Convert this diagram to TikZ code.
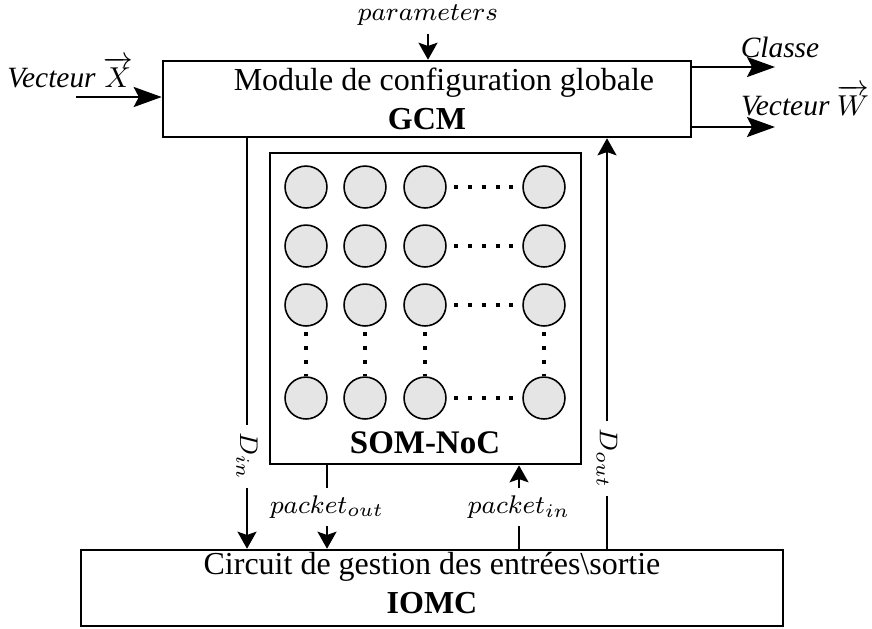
\documentclass[tikz,border=0pt]{standalone}
\usepackage{fontspec}
\setmainfont{Liberation Serif}
\usepackage{amsmath}
\usetikzlibrary{arrows.meta, positioning}

\begin{document}
\begin{tikzpicture}[
  x=0.3125pt, y=-0.3125pt,
  block/.style={draw, line width=0.8pt, align=center, inner sep=0pt},
  neuron/.style={circle, draw, line width=0.5pt, fill=gray!20, minimum size=13.1pt, inner sep=0pt},
  tlbl/.style={font=\fontsize{9.2}{11}\selectfont\itshape, inner sep=2pt},
  mlbl/.style={font=\fontsize{8}{10}\selectfont, inner sep=2.5pt},
  bigarrow/.style={-{Stealth[length=8.75pt, width=6.25pt, inset=1.6pt]}, line width=0.8pt},
  arrow/.style={-{Stealth[length=5.3pt, width=5.9pt, inset=1pt]}, line width=0.8pt},
  dotline/.style={line width=1.25pt, dash pattern=on 1.25pt off 3.1pt}
]
\useasboundingbox (0,0) rectangle (872,628);

% blocs
\node[block, minimum width=165pt, minimum height=23.75pt] (gcm) at (427,99)
  {\hspace*{10.6pt}Module de configuration globale\\\textbf{GCM}};
\node[block, minimum width=219.4pt, minimum height=23.75pt] (iomc) at (432,588)
  {Circuit de gestion des entrées\textbackslash sortie\\\textbf{IOMC}\rule[-3.1pt]{0pt}{0pt}};
\node[block, minimum width=97.2pt, minimum height=97.2pt] (som) at (425.5,308.5) {};
\node[font=\fontsize{10.3}{12}\selectfont\bfseries, anchor=base] (somlbl) at (425,453) {SOM-NoC};

% neurones
\foreach \r/\yy in {1/187, 2/246, 3/305, 5/398}
  \foreach \c/\xx in {1/306, 2/365, 3/425, 5/544}
    \node[neuron] (n\r\c) at (\xx,\yy) {};
\foreach \r in {1,2,3,5}
  \draw[dotline] ([xshift=2.2pt]n\r3.east) -- ([xshift=-2.5pt]n\r5.west);
\foreach \c in {1,2,3,5}
  \draw[dotline] ([yshift=-1.6pt]n3\c.south) -- (n5\c.north);

% entrees / sorties du GCM
\coordinate (xin) at (76,97);
\draw[bigarrow] (xin) -- (xin -| gcm.west);
\node[tlbl, anchor=base] (vx) at (70,87) {Vecteur $\overrightarrow{X}$};
\coordinate (cls) at (775,67);
\draw[bigarrow] (cls -| gcm.east) -- (cls);
\node[tlbl, anchor=base] (classe) at (780,57) {Classe};
\coordinate (wout) at (775,127);
\draw[bigarrow] (wout -| gcm.east) -- (wout);
\node[tlbl, anchor=base] (vw) at (805,115) {Vecteur $\overrightarrow{W}$};
\node[mlbl, anchor=base] (par) at (428,20) {$parameters$};
\draw[arrow] (par.south) -- (par.south |- gcm.north);

% liaisons GCM / SOM-NoC / IOMC
\coordinate (xdin) at (247,300);
\coordinate (xpout) at (327,300);
\coordinate (xpin) at (519,300);
\coordinate (xdout) at (607,300);
\draw[arrow] (gcm.south -| xdin) -- node[mlbl, fill=white, rotate=-90, pos=0.775] {$D_{in}$} (iomc.north -| xdin);
\draw[arrow] (som.south -| xpout) -- node[mlbl, fill=white] {$packet_{out}$} (iomc.north -| xpout);
\draw[arrow] (iomc.north -| xpin) -- node[mlbl, fill=white] {$packet_{in}$} (som.south -| xpin);
\draw[arrow] (iomc.north -| xdout) -- node[mlbl, fill=white, rotate=-90, pos=0.22] {$D_{out}$} (gcm.south -| xdout);
\end{tikzpicture}
\end{document}
